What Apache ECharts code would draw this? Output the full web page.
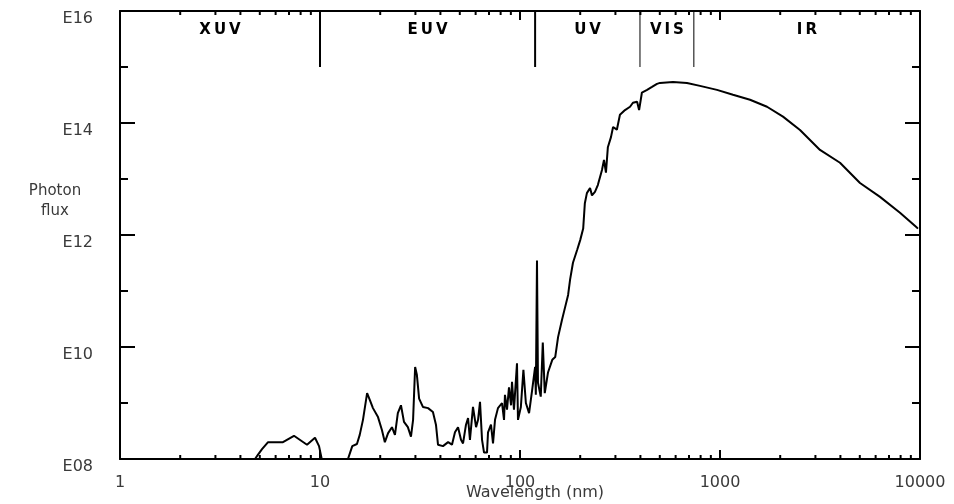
<!DOCTYPE html>
<html>
<head>
<meta charset="utf-8">
<script src="https://cdn.jsdelivr.net/npm/echarts@6/dist/echarts.min.js"></script>
<style>
  html, body { margin: 0; padding: 0; background: #fff; }
  #chart { width: 954px; height: 504px; }
</style>
</head>
<body>
<div id="chart"></div>
<script>
// solar photon flux (wavelength in nm)
const wavelength = [
  4.73, 4.90, 5.13, 5.50, 6.53, 7.41, 8.61, 9.44, 9.89, 10.2, 11, 13,
  13.8, 14.5, 15.3, 15.8, 16.4, 17.2, 17.8, 18.4, 19.5, 20.4, 21.1, 21.9, 22.9, 23.7,
  24.5, 25.4, 26.3, 27.5, 28.5, 29.2, 29.9, 30.5, 31.3, 32.7, 34.7, 36.7, 38.0, 38.9,
  41.2, 43.7, 45.7, 47.3, 49.0, 50.7, 51.9, 53.7, 55.0, 56.2, 58.2, 60.3, 61.7, 63.1,
  64.6, 66.1, 68.4, 69.2, 71.6, 73.3, 75.0, 77.6, 81.3, 83.2, 84.1, 86.1, 88.1, 90.2,
  91.2, 93.3, 96.6, 97.7, 101, 104, 107, 111, 115, 119, 120, 121.6, 123, 127,
  130, 133, 138, 145, 150, 155, 162, 168, 174, 178, 184, 193, 200, 207,
  211, 216, 224, 229, 237, 245, 257, 263, 269, 275, 285, 292, 305, 316,
  335, 355, 367, 385, 394, 407, 432, 457, 484, 501, 582, 684, 794, 966,
  1161, 1413, 1718, 2065, 2512, 3162, 3981, 5012, 6310, 7943, 9550, 9772
];
const flux = [
  1.0e8, 1.2e8, 1.5e8, 2.0e8, 2.0e8, 2.6e8, 1.8e8, 2.4e8, 1.7e8, 1.0e8, 5e7, 5e7,
  1.0e8, 1.7e8, 1.85e8, 2.7e8, 5.0e8, 1.5e9, 1.1e9, 8.1e8, 5.6e8, 3.3e8, 2.0e8, 2.9e8, 3.7e8, 2.7e8,
  6.6e8, 9.1e8, 4.6e8, 3.7e8, 2.5e8, 5.0e8, 4.4e9, 3.2e9, 1.2e9, 8.5e8, 8.1e8, 6.9e8, 4.1e8, 1.8e8,
  1.7e8, 2.0e8, 1.8e8, 3.0e8, 3.7e8, 2.2e8, 1.9e8, 4.1e8, 5.4e8, 2.2e8, 8.5e8, 3.7e8, 5.0e8, 1.05e9,
  2.2e8, 1.3e8, 1.3e8, 3.0e8, 4.1e8, 1.9e8, 5.0e8, 8.1e8, 1.0e9, 5.0e8, 1.4e9, 7.6e8, 1.9e9, 9.1e8,
  2.4e9, 7.6e8, 5.1e9, 5.0e8, 8.5e8, 3.9e9, 1.0e9, 6.6e8, 1.7e9, 4.4e9, 1.4e9, 3.5e11, 2.3e9, 1.3e9,
  1.2e10, 1.5e9, 3.5e9, 5.9e9, 6.6e9, 1.5e10, 3.0e10, 5.1e10, 8.5e10, 1.6e11, 3.2e11, 5.4e11, 8.1e11, 1.3e12,
  3.7e12, 5.6e12, 6.9e12, 5.1e12, 5.9e12, 7.8e12, 1.45e13, 2.2e13, 1.3e13, 3.7e13, 5.6e13, 8.5e13, 7.6e13, 1.4e14,
  1.7e14, 1.95e14, 2.3e14, 2.4e14, 1.7e14, 3.5e14, 3.9e14, 4.4e14, 5.0e14, 5.2e14, 5.4e14, 5.2e14, 4.6e14, 3.9e14,
  3.2e14, 2.6e14, 1.95e14, 1.3e14, 7.5e13, 3.3e13, 1.95e13, 8.5e12, 4.8e12, 2.5e12, 1.4e12, 1.3e12
];

// spectral bands across the top of the plot
const bandNames = ['X\u2009U\u2009V', 'E\u2009U\u2009V', 'U\u2009V', 'V\u2009I\u2009S', 'I\u2009R'];
const bandEdges = [1, 10, 119, 398, 740, 10000];
const bandLineWidth = [2, 2, 1, 1];

// extra ticks the axes can't draw themselves
const xMinorTicks = [
  2, 3, 4, 5, 6, 7, 8, 9,
  20, 30, 40, 50, 60, 70, 80, 90,
  200, 300, 400, 500, 600, 700, 800, 900,
  2000, 3000, 4000, 5000, 6000, 7000, 8000, 9000
];
const yLongTicks = [1e10, 1e12, 1e14];

const FONT = 'DejaVu Sans';
const textColor = '#3a3a3a';

function exponentLabel(value) {
  const e = Math.round(Math.log10(value));
  if (e % 2 !== 0) return '';
  return 'E' + (e < 10 ? '0' + e : e);
}

function renderMinorTick(params, api) {
  const b = api.coord([api.value(0), 1e8]);
  const t = api.coord([api.value(0), 1e16]);
  const st = { stroke: '#000', lineWidth: 2 };
  return {
    type: 'group',
    children: [
      { type: 'line', shape: { x1: b[0], y1: b[1], x2: b[0], y2: b[1] - 4 }, style: st },
      { type: 'line', shape: { x1: t[0], y1: t[1], x2: t[0], y2: t[1] + 4 }, style: st }
    ]
  };
}

function renderLongTick(params, api) {
  const l = api.coord([1, api.value(1)]);
  const r = api.coord([10000, api.value(1)]);
  const st = { stroke: '#000', lineWidth: 2 };
  return {
    type: 'group',
    children: [
      { type: 'line', shape: { x1: l[0], y1: l[1], x2: l[0] + 15, y2: l[1] }, style: st },
      { type: 'line', shape: { x1: r[0], y1: r[1], x2: r[0] - 15, y2: r[1] }, style: st }
    ]
  };
}

function renderBandLine(params, api) {
  const top = api.coord([api.value(0), 1e16]);
  const bot = api.coord([api.value(0), 1e15]);
  return {
    type: 'line',
    shape: { x1: top[0], y1: top[1], x2: bot[0], y2: bot[1] },
    style: { stroke: '#000', lineWidth: bandLineWidth[params.dataIndex] }
  };
}

function renderBandLabel(params, api) {
  const p = api.coord([api.value(0), 1e16]);
  return {
    type: 'text',
    x: p[0],
    y: p[1] + 19,
    style: {
      text: bandNames[params.dataIndex],
      align: 'center',
      verticalAlign: 'middle',
      font: 'bold 15px "' + FONT + '"',
      fill: '#000'
    }
  };
}

const bandLineData = bandEdges.slice(1, -1).map(v => [v, 1e16]);
const bandLabelData = bandNames.map((n, i) => [Math.sqrt(bandEdges[i] * bandEdges[i + 1]), 1e16]);

const axisLineStyle = { color: '#000', width: 2 };

const option = {
  animation: false,
  backgroundColor: '#fff',
  grid: { left: 120, right: 34, top: 11, bottom: 45, containLabel: false, outerBoundsMode: 'none' },
  graphic: [{
    type: 'text',
    x: 55,
    y: 181,
    style: {
      text: 'Photon\nflux',
      align: 'center',
      verticalAlign: 'top',
      fontFamily: FONT,
      fontSize: 15,
      lineHeight: 20,
      fill: textColor
    }
  }],
  xAxis: [{
    type: 'log',
    logBase: 10,
    min: 1,
    max: 10000,
    position: 'bottom',
    axisLine: { lineStyle: axisLineStyle },
    axisTick: { inside: true, length: 9, lineStyle: axisLineStyle },
    axisLabel: {
      margin: 16,
      color: textColor,
      fontSize: 16,
      fontFamily: FONT,
      formatter: v => String(v)
    },
    splitLine: { show: false },
    name: 'Wavelength (nm)',
    nameLocation: 'middle',
    nameGap: 26,
    nameMoveOverlap: false,
    nameTextStyle: { color: textColor, fontSize: 16, fontFamily: FONT, padding: [0, 0, 0, 30] }
  }, {
    type: 'log',
    logBase: 10,
    min: 1,
    max: 10000,
    position: 'top',
    axisLine: { lineStyle: axisLineStyle },
    axisTick: { inside: true, length: 9, lineStyle: axisLineStyle },
    axisLabel: { show: false },
    splitLine: { show: false }
  }],
  yAxis: [{
    type: 'log',
    logBase: 10,
    min: 1e8,
    max: 1e16,
    interval: 1,
    splitNumber: 8,
    position: 'left',
    axisLine: { lineStyle: axisLineStyle },
    axisTick: { inside: true, length: 8, lineStyle: axisLineStyle },
    axisLabel: {
      margin: 27,
      color: textColor,
      fontSize: 16,
      fontFamily: FONT,
      verticalAlign: 'top',
      lineHeight: 16,
      formatter: exponentLabel
    },
    splitLine: { show: false }
  }, {
    type: 'log',
    logBase: 10,
    min: 1e8,
    max: 1e16,
    interval: 1,
    splitNumber: 8,
    position: 'right',
    axisLine: { lineStyle: axisLineStyle },
    axisTick: { inside: true, length: 8, lineStyle: axisLineStyle },
    axisLabel: { show: false },
    splitLine: { show: false }
  }],
  series: [{
    name: 'Photon flux',
    type: 'line',
    data: wavelength.map((w, i) => [w, flux[i]]),
    showSymbol: false,
    clip: true,
    lineStyle: { color: '#000', width: 2 },
    z: 3
  }, {
    type: 'custom',
    renderItem: renderMinorTick,
    data: xMinorTicks.map(v => [v, 1e8]),
    silent: true
  }, {
    type: 'custom',
    renderItem: renderLongTick,
    data: yLongTicks.map(v => [1, v]),
    silent: true
  }, {
    type: 'custom',
    renderItem: renderBandLine,
    data: bandLineData,
    silent: true
  }, {
    type: 'custom',
    renderItem: renderBandLabel,
    data: bandLabelData,
    silent: true
  }]
};

const chart = echarts.init(document.getElementById('chart'), null, { renderer: 'canvas' });
chart.setOption(option);
</script>
</body>
</html>
